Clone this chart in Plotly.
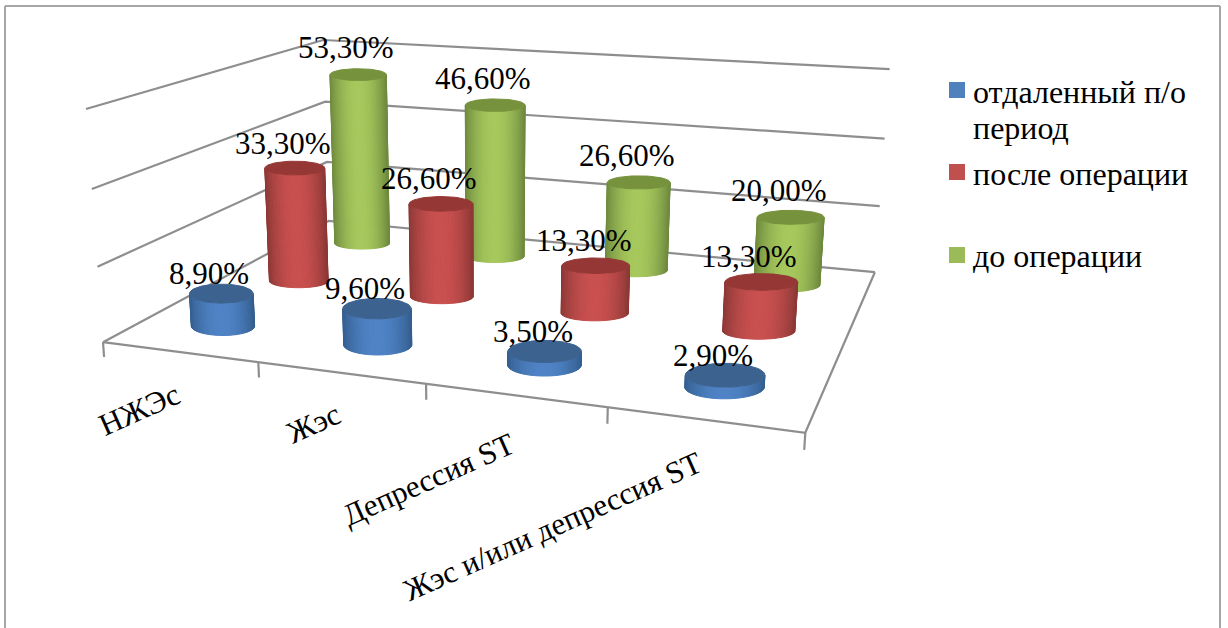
import numpy as np
import plotly.graph_objects as go

categories = ["НЖЭс", "Жэс", "Депрессия ST", "Жэс и/или депрессия ST"]
series_names = ["отдаленный п/о<br>период", "после операции", "до операции"]
remote_period = [8.9, 9.6, 3.5, 2.9]
after_surgery = [33.3, 26.6, 13.3, 13.3]
before_surgery = [53.3, 46.6, 26.6, 20.0]
all_series = [remote_period, after_surgery, before_surgery]
grid_values = [0, 20, 40, 60]

# Perspective camera: (category, series depth, percent) -> screen pixels
PROJECTION = np.array([
    [145.766, 108.581, -0.345342, 103.006],
    [6.63785, -17.9648, -3.96272, 342.164],
    [-0.0370066, 0.101523, -0.000708854, 1.0],
])

FONT = "Liberation Serif"
GRID = "#8E8E8E"
RADIUS_SHARE = 0.212            # cylinder half-width, as a share of one category
FLATNESS = [0.30, 0.23, 0.21]   # ellipse height / width per depth row
LOOKS = [
    dict(top=(60, 98, 144), edge=(51, 94, 143), mid=(79, 131, 198)),
    dict(top=(149, 55, 53), edge=(140, 56, 54), mid=(201, 80, 79)),
    dict(top=(118, 146, 60), edge=(110, 138, 62), mid=(166, 200, 92)),
]


def project(x, y, z):
    x, y, z = np.broadcast_arrays(np.asarray(x, float), np.asarray(y, float), np.asarray(z, float))
    h = PROJECTION @ np.vstack([x.ravel(), y.ravel(), z.ravel(), np.ones(x.size)])
    return h[0] / h[2], h[1] / h[2]


fig = go.Figure()


def line(xs, ys, zs, width=2.2):
    u, v = project(xs, ys, zs)
    fig.add_trace(go.Scatter(x=u, y=v, mode="lines", line=dict(color=GRID, width=width),
                             hoverinfo="skip", showlegend=False))


def polygon(u, v, color):
    fig.add_trace(go.Scatter(x=u, y=v, mode="lines", fill="toself", fillcolor=color,
                             line=dict(color=color, width=1), hoverinfo="skip", showlegend=False))


def ellipse(cx, cy, z, flatness, phi):
    cu, cv = project(cx, cy, z)
    lu, _ = project(cx - 0.5, cy, z)
    ru, _ = project(cx + 0.5, cy, z)
    a = RADIUS_SHARE * (ru[0] - lu[0])
    return cu[0] + a * np.cos(phi), cv[0] + a * flatness * np.sin(phi)


def cylinder(cx, cy, value, look, flatness):
    # front half of the wall, cut into vertical strips shaded from edge to centre
    phi = np.linspace(np.pi, 0, 41)
    bu, bv = ellipse(cx, cy, 0, flatness, phi)
    tu, tv = ellipse(cx, cy, value, flatness, phi)
    for i in range(len(phi) - 1):
        t = abs(np.cos(0.5 * (phi[i] + phi[i + 1])))
        k = 1 - t ** 2
        col = tuple(int(round(look["edge"][j] + (look["mid"][j] - look["edge"][j]) * k)) for j in range(3))
        polygon([bu[i], bu[i + 1], tu[i + 1], tu[i], bu[i]],
                [bv[i], bv[i + 1], tv[i + 1], tv[i], bv[i]], f"rgb{col}")
    # flat cap on top
    ring = np.linspace(0, 2 * np.pi, 73)
    cu, cv = ellipse(cx, cy, value, flatness, ring)
    top = look["top"]
    polygon(cu, cv, f"rgb{top}")


for g in grid_values:
    line([0, 0, 4], [0, 3, 3], [g, g, g])
line([0, 4, 4], [0, 0, 3], [0, 0, 0])
for t in range(5):
    line([t, t], [0, 0], [0, -4])

# rows are painted back to front so nearer cylinders cover farther ones
for s in (2, 1, 0):
    for c, value in enumerate(all_series[s]):
        cylinder(c + 0.5, s + 0.5, value, LOOKS[s], FLATNESS[s])

annots = []
for s in range(3):
    for c, value in enumerate(all_series[s]):
        u, v = project(c + 0.5, s + 0.5, value)
        annots.append(dict(x=u[0], y=v[0], xref="x", yref="y", text=f"{value:.2f}%".replace(".", ","),
                           showarrow=False, xshift=-12, yshift=[20, 25, 27][s],
                           font=dict(family=FONT, size=31, color="black")))

CATEGORY_CENTRES = [(139, 409), (313, 423), (428, 479), (552, 526)]
for name, (u, v) in zip(categories, CATEGORY_CENTRES):
    annots.append(dict(x=u, y=v, xref="x", yref="y", text=name, showarrow=False, textangle=-24,
                       font=dict(family=FONT, size=31, color="black")))

LEGEND_SWATCHES = ["#4F81BD", "#C0504D", "#9BBB59"]
LEGEND_ROWS = [90, 172, 255]
LEGEND_TEXT_Y = [92, 174, 256]
shapes = []
for name, colour, row, text_y in zip(series_names, LEGEND_SWATCHES, LEGEND_ROWS, LEGEND_TEXT_Y):
    shapes.append(dict(type="rect", xref="x", yref="y", x0=949, x1=965, y0=row - 8, y1=row + 8,
                       fillcolor=colour, line_width=0))
    for i, part in enumerate(name.split("<br>")):
        annots.append(dict(x=971, y=text_y + 36 * i, xref="x", yref="y", text=part, showarrow=False,
                           xanchor="left", yanchor="middle",
                           font=dict(family=FONT, size=32, color="black")))

for x0, y0, x1, y1 in [(5, 6, 5, 628), (5, 6, 1220, 6), (1220, 6, 1220, 628)]:
    shapes.append(dict(type="line", xref="x", yref="y", x0=x0, y0=y0, x1=x1, y1=y1,
                       line=dict(color="#A6A6A6", width=2)))

fig.update_layout(width=1228, height=628, margin=dict(l=0, r=0, t=0, b=0), paper_bgcolor="white",
                  plot_bgcolor="white", showlegend=False, annotations=annots, shapes=shapes,
                  xaxis=dict(visible=False, range=[0, 1228], fixedrange=True),
                  yaxis=dict(visible=False, range=[628, 0], fixedrange=True))
fig.write_html("out.html")
